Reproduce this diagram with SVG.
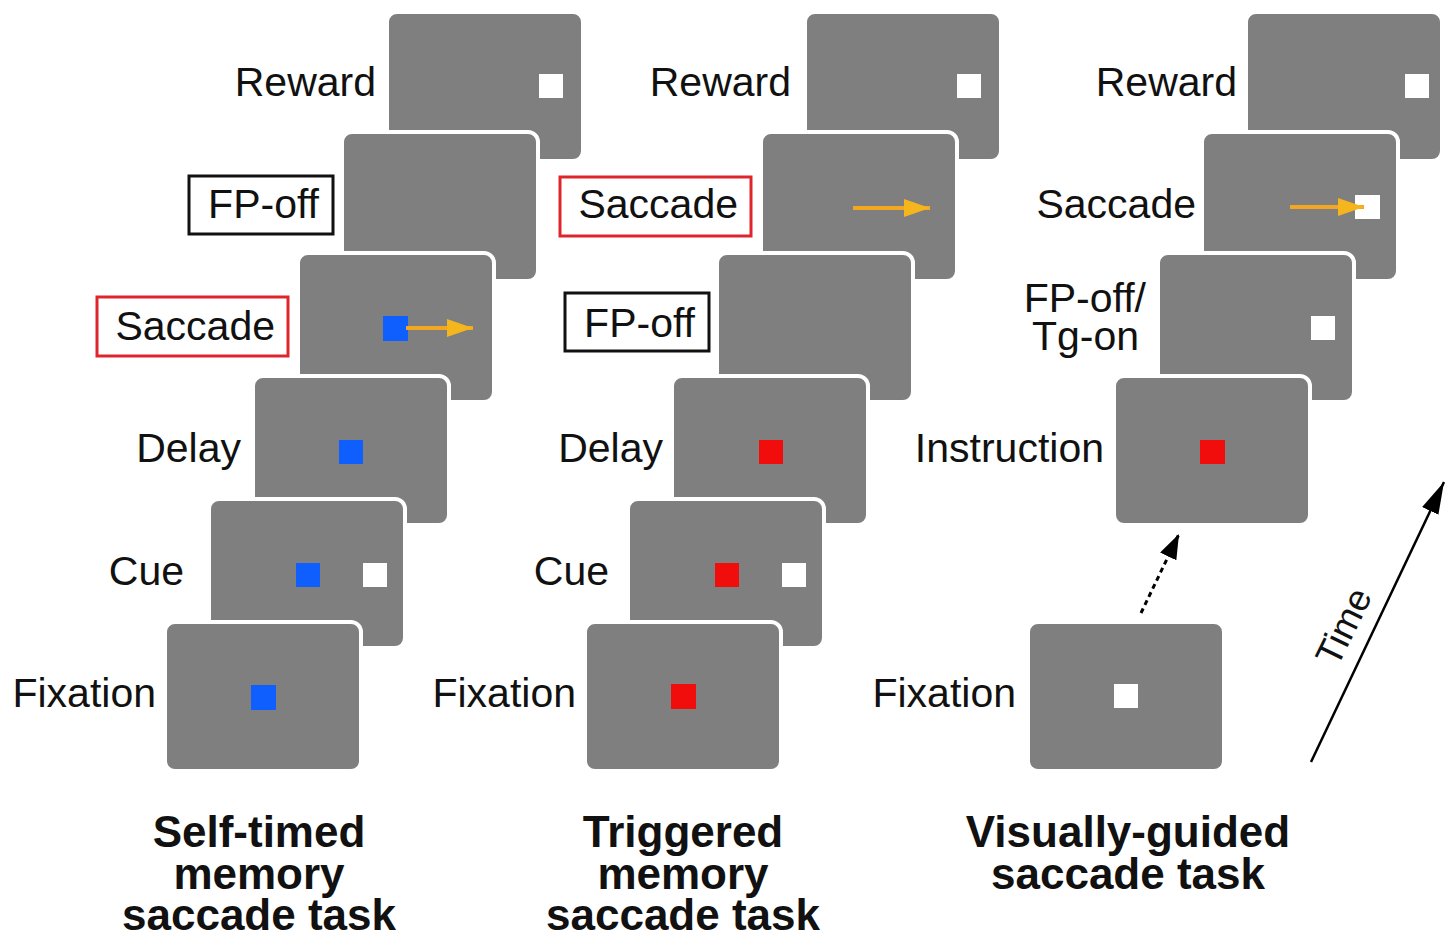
<svg xmlns="http://www.w3.org/2000/svg" width="1455" height="941" viewBox="0 0 1455 941">
<defs>
<style>
.scr{fill:#7f7f7f;stroke:#ffffff;stroke-width:4}
.lbl{font-family:"Liberation Sans",Arial,sans-serif;font-size:41px;fill:#111;text-anchor:end}
.ttl{font-family:"Liberation Sans",Arial,sans-serif;font-size:44px;font-weight:bold;fill:#111;text-anchor:middle}
.blue{fill:#0f5fff}
.red{fill:#f20d0d}
.wht{fill:#ffffff}
.rbox{fill:#ffffff;stroke:#e0242c;stroke-width:3}
.kbox{fill:#ffffff;stroke:#111;stroke-width:3}
.sac{stroke:#f2a622;stroke-width:4;fill:none}
</style>
<marker id="oh" viewBox="0 0 10 10" refX="10" refY="5" markerWidth="6.5" markerHeight="4.5" markerUnits="strokeWidth" orient="auto" preserveAspectRatio="none"><path d="M0,0 L10,5 L0,10 z" fill="#f5b51c"/></marker>
<marker id="kh" viewBox="0 0 10 10" refX="10" refY="5" markerWidth="8.3" markerHeight="6" markerUnits="strokeWidth" orient="auto" preserveAspectRatio="none"><path d="M0,0 L10,5 L0,10 z" fill="#000"/></marker>
<marker id="kh2" viewBox="0 0 10 10" refX="10" refY="5" markerWidth="12.8" markerHeight="7.2" markerUnits="strokeWidth" orient="auto" preserveAspectRatio="none"><path d="M0,0 L10,5 L0,10 z" fill="#000"/></marker>
</defs>
<rect width="1455" height="941" fill="#ffffff"/>

<!-- Left column: Self-timed memory saccade task -->
<g id="left-reward"><rect class="scr" x="387" y="12" width="196" height="149" rx="10"/><rect class="wht" x="539" y="74" width="24" height="24"/><text class="lbl" x="376" y="96">Reward</text></g>
<g id="left-fpoff"><rect class="scr" x="342" y="132" width="196" height="149" rx="10"/><rect class="kbox" x="189" y="176" width="144" height="58"/><text class="lbl" x="319" y="218">FP-off</text></g>
<g id="left-saccade"><rect class="scr" x="298" y="253" width="196" height="149" rx="10"/><rect class="blue" x="383" y="316" width="25" height="25"/><line class="sac" x1="406" y1="328" x2="473" y2="328" marker-end="url(#oh)"/><rect class="rbox" x="97" y="297" width="191" height="59"/><text class="lbl" x="275" y="340">Saccade</text></g>
<g id="left-delay"><rect class="scr" x="253" y="376" width="196" height="149" rx="10"/><rect class="blue" x="339" y="440" width="24" height="24"/><text class="lbl" x="241" y="462">Delay</text></g>
<g id="left-cue"><rect class="scr" x="209" y="499" width="196" height="149" rx="10"/><rect class="blue" x="296" y="563" width="24" height="24"/><rect class="wht" x="363" y="563" width="24" height="24"/><text class="lbl" x="184" y="585">Cue</text></g>
<g id="left-fixation"><rect class="scr" x="165" y="622" width="196" height="149" rx="10"/><rect class="blue" x="251" y="685" width="25" height="25"/><text class="lbl" x="156" y="707">Fixation</text></g>
<g id="left-title"><text class="ttl" x="259" y="847">Self-timed</text><text class="ttl" x="259" y="889">memory</text><text class="ttl" x="259" y="930">saccade task</text></g>

<!-- Middle column: Triggered memory saccade task -->
<g id="mid-reward"><rect class="scr" x="805" y="12" width="196" height="149" rx="10"/><rect class="wht" x="957" y="74" width="24" height="24"/><text class="lbl" x="791" y="96">Reward</text></g>
<g id="mid-saccade"><rect class="scr" x="761" y="132" width="196" height="149" rx="10"/><line class="sac" x1="853" y1="208" x2="930" y2="208" marker-end="url(#oh)"/><rect class="rbox" x="560" y="177" width="191" height="59"/><text class="lbl" x="738" y="218">Saccade</text></g>
<g id="mid-fpoff"><rect class="scr" x="717" y="253" width="196" height="149" rx="10"/><rect class="kbox" x="565" y="293" width="144" height="58"/><text class="lbl" x="695" y="337">FP-off</text></g>
<g id="mid-delay"><rect class="scr" x="672" y="376" width="196" height="149" rx="10"/><rect class="red" x="759" y="440" width="24" height="24"/><text class="lbl" x="663" y="462">Delay</text></g>
<g id="mid-cue"><rect class="scr" x="628" y="499" width="196" height="149" rx="10"/><rect class="red" x="715" y="563" width="24" height="24"/><rect class="wht" x="782" y="563" width="24" height="24"/><text class="lbl" x="609" y="585">Cue</text></g>
<g id="mid-fixation"><rect class="scr" x="585" y="622" width="196" height="149" rx="10"/><rect class="red" x="671" y="684" width="25" height="25"/><text class="lbl" x="576" y="707">Fixation</text></g>
<g id="mid-title"><text class="ttl" x="683" y="847">Triggered</text><text class="ttl" x="683" y="889">memory</text><text class="ttl" x="683" y="930">saccade task</text></g>

<!-- Right column: Visually-guided saccade task -->
<g id="right-reward"><rect class="scr" x="1246" y="12" width="196" height="149" rx="10"/><rect class="wht" x="1405" y="74" width="24" height="24"/><text class="lbl" x="1237" y="96">Reward</text></g>
<g id="right-saccade"><rect class="scr" x="1202" y="132" width="196" height="149" rx="10"/><rect class="wht" x="1355" y="195" width="25" height="24"/><line class="sac" x1="1290" y1="207" x2="1364" y2="207" marker-end="url(#oh)"/><text class="lbl" x="1196" y="218">Saccade</text></g>
<g id="right-fpoff-tgon"><rect class="scr" x="1158" y="253" width="196" height="149" rx="10"/><rect class="wht" x="1311" y="316" width="24" height="24"/><text class="lbl" x="1146" y="312">FP-off/</text><text class="lbl" x="1139" y="350">Tg-on</text></g>
<g id="right-instruction"><rect class="scr" x="1114" y="376" width="196" height="149" rx="10"/><rect class="red" x="1200" y="440" width="25" height="24"/><text class="lbl" x="1104" y="462">Instruction</text></g>
<g id="right-fixation"><rect class="scr" x="1028" y="622" width="196" height="149" rx="10"/><rect class="wht" x="1114" y="684" width="24" height="24"/><text class="lbl" x="1016" y="707">Fixation</text></g>
<g id="right-title"><text class="ttl" x="1128" y="847">Visually-guided</text><text class="ttl" x="1128" y="889">saccade task</text></g>

<!-- Connectors -->
<g id="connectors">
<line x1="1141" y1="613" x2="1179" y2="534" stroke="#000" stroke-width="3" stroke-dasharray="5,4" marker-end="url(#kh)"/>
<line x1="1311" y1="762" x2="1444" y2="482" stroke="#000" stroke-width="2.5" marker-end="url(#kh2)"/>
<text x="1355" y="632" transform="rotate(-64 1355 632)" font-family="'Liberation Sans',Arial,sans-serif" font-size="37" fill="#111" text-anchor="middle">Time</text>
</g>
</svg>
